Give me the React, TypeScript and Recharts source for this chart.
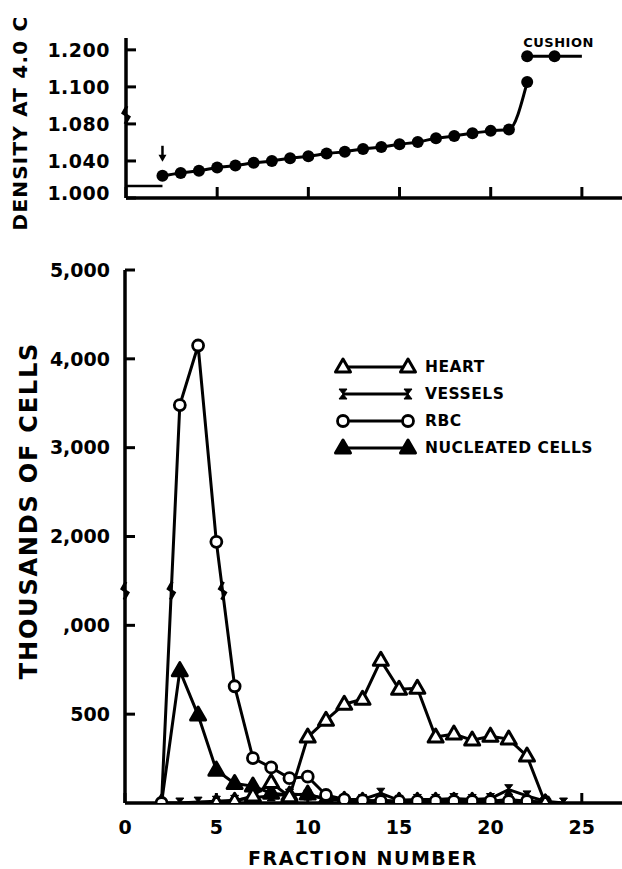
import React from 'react';
import { LineChart, Line, XAxis, YAxis, ReferenceDot } from 'recharts';

// fraction numbers of the bottom panel
const fractions = [2, 3, 4, 5, 6, 7, 8, 9, 10, 11, 12, 13, 14, 15, 16, 17, 18, 19, 20, 21, 22, 23, 24];
// thousands of cells per fraction
const heart = [null, null, null, 0, 10, 40, 115, 35, 371, 466, 556, 584, 803, 640, 646, 371, 388, 354, 376, 360, 264, 0, null];
const vessels = [0, 0, 5, 10, 15, 30, 40, 50, 45, 25, 20, 20, 55, 15, 20, 20, 25, 20, 25, 75, 40, 10, 0];
const rbc = [0, 3480, 4150, 1940, 657, 253, 200, 140, 148, 45, 20, 15, 10, 10, 10, 10, 10, 10, 10, 10, 10, 5, null];
const nucleated = [0, 745, 495, 185, 110, 95, 55, 45, 50, 20, 15, 10, 15, 10, 10, 10, 10, 10, 10, 20, 10, 0, null];

// density gradient (top panel)
const densityFractions = [2, 3, 4, 5, 6, 7, 8, 9, 10, 11, 12, 13, 14, 15, 16, 17, 18, 19, 20, 21, 22];
const density = [1.024, 1.027, 1.0295, 1.033, 1.035, 1.038, 1.040, 1.043, 1.045, 1.048, 1.050, 1.053, 1.055, 1.058, 1.0605, 1.0645, 1.067, 1.070, 1.0725, 1.074, 1.113];
const cushionFractions = [22, 23.5, 25];
const cushionDensity = [1.183, 1.183, 1.183];
const sampleFractions = [0, 2];
const sampleDensity = [1.013, 1.013];

const densityTicks = [1.0, 1.04, 1.08, 1.1, 1.2];
const densityTickLabels = ['1.000', '1.040', '1.080', '1.100', '1.200'];
const cellTicks = [500, 1000, 2000, 3000, 4000, 5000];
const cellTickLabels = ['500', ',000', '2,000', '3,000', '4,000', '5,000'];
const fractionTicks = [0, 5, 10, 15, 20, 25];

// broken axes: piecewise linear mapping to plot units
const densityToUnit = (d: number) =>
    d <= 1.08 ? (d - 1) / 0.04 : d <= 1.1 ? 2 + (d - 1.08) / 0.02 : 3 + (d - 1.1) / 0.1;
const cellsToUnit = (v: number) => (v <= 1000 ? v / 500 : 2 + (v - 1000) / 1000);

const FONT = '"DejaVu Sans", sans-serif';
const tickStyle = { fill: '#000', fontSize: 19, fontWeight: 700, fontFamily: FONT };
const axisLine = { stroke: '#000', strokeWidth: 3.5 };
const tickLine = { stroke: '#000', strokeWidth: 3 };

const densityRows = densityFractions.map((f, i) => ({ fraction: f, u: densityToUnit(density[i]) }));
const cushionRows = cushionFractions.map((f, i) => ({ fraction: f, u: densityToUnit(cushionDensity[i]) }));
const sampleRows = sampleFractions.map((f, i) => ({ fraction: f, u: densityToUnit(sampleDensity[i]) }));

const toU = (v: number | null) => (v == null ? null : cellsToUnit(v));
const cellRows = fractions.map((f, i) => ({
    fraction: f,
    heart: toU(heart[i]),
    vessels: toU(vessels[i]),
    rbc: toU(rbc[i]),
    nucleated: toU(nucleated[i]),
}));

// where the RBC line crosses the axis break level
const BREAK_CELLS = 2.39;
const DENSITY_BREAK = 2.24;
const rbcBreaks: number[] = [];
for (let i = 0; i < cellRows.length - 1; i++) {
    const a = cellRows[i].rbc;
    const b = cellRows[i + 1].rbc;
    if (a == null || b == null) continue;
    if ((a - BREAK_CELLS) * (b - BREAK_CELLS) < 0) {
        const t = (BREAK_CELLS - a) / (b - a);
        rbcBreaks.push(cellRows[i].fraction + t * (cellRows[i + 1].fraction - cellRows[i].fraction));
    }
}

const findLabel = (ticks: number[], labels: string[], conv: (n: number) => number) => (u: number) => {
    const i = ticks.findIndex((t) => Math.abs(conv(t) - u) < 1e-6);
    return i >= 0 ? labels[i] : '';
};
const densityLabel = findLabel(densityTicks, densityTickLabels, densityToUnit);

function DensityTick(props: any) {
    const { x, y, payload } = props;
    const text = densityLabel(payload.value);
    // the 1.000 label sits a little above the axis line
    const dy = payload.value === 0 ? -5 : 0;
    return (
        <text x={x} y={y + dy} textAnchor="end" dominantBaseline="central" {...tickStyle} letterSpacing={0.5}>
            {text}
        </text>
    );
}

function OpenTri({ cx, cy, filled }: any) {
    return (
        <path
            d={`M${cx},${cy - 8} L${cx + 7.5},${cy + 5} L${cx - 7.5},${cy + 5} Z`}
            fill={filled ? '#000' : '#fff'}
            stroke="#000"
            strokeWidth={3}
            strokeLinejoin="round"
        />
    );
}
function OpenCircle({ cx, cy }: any) {
    return <circle cx={cx} cy={cy} r={5.5} fill="#fff" stroke="#000" strokeWidth={2.8} />;
}
function Bowtie({ cx, cy }: any) {
    return <path d={`M${cx - 4},${cy - 5} L${cx + 4},${cy - 5} L${cx - 4},${cy + 5} L${cx + 4},${cy + 5} Z`} fill="#000" stroke="#000" strokeWidth={1} />;
}

const dotOf = (Comp: any, extra: any = {}) => (props: any) => {
    const { cx, cy, index, value } = props;
    if (cx == null || cy == null || value == null) return <g key={`n${index}`} />;
    return <Comp key={`d${index}`} cx={cx} cy={cy} {...extra} />;
};

const cushionDot = (props: any) => {
    const { cx, cy, index } = props;
    if (index > 1) return <g key={`c${index}`} />;
    return <circle key={`c${index}`} cx={cx} cy={cy} r={6} fill="#000" />;
};

function BreakMark({ cx, cy }: any) {
    return (
        <path
            d={`M${cx + 1},${cy - 9} L${cx - 3},${cy - 2} L${cx + 3},${cy + 2} L${cx - 1},${cy + 9}`}
            fill="none"
            stroke="#000"
            strokeWidth={3}
        />
    );
}

function ArrowMark({ cx, cy }: any) {
    return (
        <g>
            <line x1={cx} y1={cy - 30} x2={cx} y2={cy - 20} stroke="#000" strokeWidth={2.5} />
            <path d={`M${cx - 4},${cy - 21} L${cx + 4},${cy - 21} L${cx},${cy - 14} Z`} fill="#000" />
        </g>
    );
}

function CushionText({ cx, cy }: any) {
    return (
        <text x={cx + 4} y={cy - 14} textAnchor="middle" dominantBaseline="central" fontFamily={FONT} fontWeight={700} fontSize={13} letterSpacing={0.5}>
            CUSHION
        </text>
    );
}

function VerticalTitle(props: any) {
    const { viewBox, text, tx, shift = 0, size = 20, spacing = 1.5 } = props;
    const cy = viewBox.y + viewBox.height / 2 + shift;
    return (
        <text
            x={tx}
            y={cy}
            transform={`rotate(-90, ${tx}, ${cy})`}
            textAnchor="middle"
            dominantBaseline="central"
            fontFamily={FONT}
            fontWeight={700}
            fontSize={size}
            letterSpacing={spacing}
        >
            {text}
        </text>
    );
}

function BottomTitle(props: any) {
    const { tx, ty, text } = props;
    return (
        <text x={tx} y={ty} textAnchor="middle" dominantBaseline="central" fontFamily={FONT} fontWeight={700} fontSize={19} letterSpacing={1.5}>
            {text}
        </text>
    );
}

const legendRows = [
    { name: 'HEART', Mark: OpenTri, extra: {} },
    { name: 'VESSELS', Mark: Bowtie, extra: {} },
    { name: 'RBC', Mark: OpenCircle, extra: {} },
    { name: 'NUCLEATED CELLS', Mark: OpenTri, extra: { filled: true } },
];

export default function App() {
    return (
        <div style={{ position: 'absolute', left: 0, top: 0, width: 622, height: 869, background: '#fff' }}>
            <div style={{ position: 'absolute', left: 0, top: 0 }}>
                <LineChart width={622} height={240} margin={{ top: 38, right: 0, bottom: 0, left: 0 }}>
                    <XAxis
                        dataKey="fraction"
                        type="number"
                        domain={[0, 27.2]}
                        ticks={fractionTicks}
                        tickFormatter={() => ''}
                        height={42}
                        axisLine={axisLine}
                        tickLine={tickLine}
                        tickSize={-11}
                        allowDataOverflow
                    />
                    <YAxis
                        type="number"
                        domain={[0, 4.32]}
                        ticks={densityTicks.map(densityToUnit)}
                        width={126}
                        tick={<DensityTick />}
                        axisLine={axisLine}
                        tickLine={tickLine}
                        tickSize={-10}
                        tickMargin={26}
                        allowDataOverflow
                        label={<VerticalTitle text="DENSITY AT 4.0 C" tx={20} shift={5} size={20} spacing={1.2} />}
                    />
                    <Line data={sampleRows} dataKey="u" stroke="#000" strokeWidth={2.5} dot={false} activeDot={false} isAnimationActive={false} />
                    <Line data={densityRows} dataKey="u" type="monotone" stroke="#000" strokeWidth={3} dot={dotOf((p: any) => <circle cx={p.cx} cy={p.cy} r={6} fill="#000" />)} activeDot={false} isAnimationActive={false} />
                    <Line data={cushionRows} dataKey="u" stroke="#000" strokeWidth={3} dot={cushionDot} activeDot={false} isAnimationActive={false} />
                    <ReferenceDot x={densityFractions[0]} y={densityToUnit(density[0])} shape={ArrowMark} />
                    <ReferenceDot x={(cushionFractions[0] + cushionFractions[2]) / 2} y={densityToUnit(cushionDensity[0])} shape={CushionText} />
                    <ReferenceDot x={0} y={DENSITY_BREAK} shape={BreakMark} />
                </LineChart>
            </div>
            <div style={{ position: 'absolute', left: 0, top: 240 }}>
                <LineChart width={622} height={629} data={cellRows} margin={{ top: 30, right: 0, bottom: 0, left: 0 }}>
                    <XAxis
                        dataKey="fraction"
                        type="number"
                        domain={[0, 27.2]}
                        ticks={fractionTicks}
                        height={66}
                        tick={tickStyle}
                        axisLine={axisLine}
                        tickLine={tickLine}
                        tickSize={-10}
                        tickMargin={28}
                        allowDataOverflow
                        label={<BottomTitle text="FRACTION NUMBER" tx={363} ty={618} />}
                    />
                    <YAxis
                        type="number"
                        domain={[0, 6]}
                        ticks={cellTicks.map(cellsToUnit)}
                        tickFormatter={findLabel(cellTicks, cellTickLabels, cellsToUnit)}
                        width={125}
                        tick={tickStyle}
                        axisLine={axisLine}
                        tickLine={tickLine}
                        tickSize={-10}
                        tickMargin={25}
                        allowDataOverflow
                        label={<VerticalTitle text="THOUSANDS OF CELLS" tx={29} shift={-26} size={24} spacing={1.8} />}
                    />
                    <Line dataKey="vessels" stroke="#000" strokeWidth={3} dot={dotOf(Bowtie)} activeDot={false} isAnimationActive={false} />
                    <Line dataKey="nucleated" stroke="#000" strokeWidth={3} dot={dotOf(OpenTri, { filled: true })} activeDot={false} isAnimationActive={false} />
                    <Line dataKey="rbc" stroke="#000" strokeWidth={3} dot={dotOf(OpenCircle)} activeDot={false} isAnimationActive={false} />
                    <Line dataKey="heart" stroke="#000" strokeWidth={3} dot={dotOf(OpenTri)} activeDot={false} isAnimationActive={false} />
                    <ReferenceDot x={0} y={BREAK_CELLS} shape={BreakMark} />
                    {rbcBreaks.map((f, i) => (
                        <ReferenceDot key={`b${i}`} x={f} y={BREAK_CELLS} shape={BreakMark} />
                    ))}
                </LineChart>
            </div>
            <svg width={622} height={869} style={{ position: 'absolute', left: 0, top: 0, pointerEvents: 'none' }}>
                {legendRows.map((row, i) => {
                    const y = 367 + i * 27;
                    const Mark = row.Mark;
                    return (
                        <g key={row.name}>
                            <line x1={343} y1={y} x2={408} y2={y} stroke="#000" strokeWidth={3} />
                            <Mark cx={343} cy={y} {...row.extra} />
                            <Mark cx={408} cy={y} {...row.extra} />
                            <text x={425} y={y} dominantBaseline="central" fontFamily={FONT} fontWeight={700} fontSize={15.5} letterSpacing={0.5}>
                                {row.name}
                            </text>
                        </g>
                    );
                })}
            </svg>
        </div>
    );
}
